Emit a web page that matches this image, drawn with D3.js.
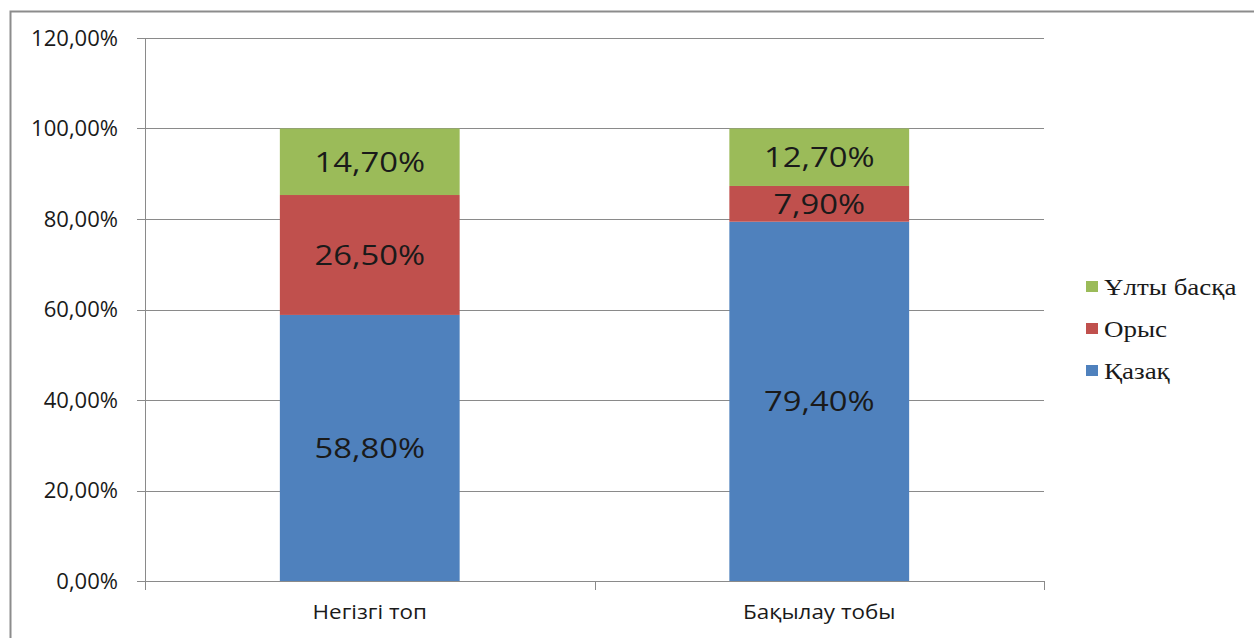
<!DOCTYPE html>
<html>
<head>
<meta charset="utf-8">
<script src="https://cdn.jsdelivr.net/npm/d3@7"></script>
<style>
  html, body { margin: 0; padding: 0; background: #fff; }
  svg { display: block; }
</style>
</head>
<body>
<svg id="chart" width="1254" height="638"></svg>
<script>
// Groups and ethnic composition (%)
const categories = ["Негізгі топ", "Бақылау тобы"];
const seriesNames = ["Қазақ", "Орыс", "Ұлты басқа"];
const kazakh = [58.8, 79.4];
const russian = [26.5, 7.9];
const other = [14.7, 12.7];
const yTicks = [0, 20, 40, 60, 80, 100, 120];
const colors = ["#4F81BD", "#C0504D", "#9BBB59"];

const seriesValues = [kazakh, russian, other];
const pct = v => d3.format(".2f")(v).replace(".", ",") + "%";

const svg = d3.select("#chart");

// Outer chart frame
svg.append("path")
  .attr("d", "M10.5,640 L10.5,11.5 L1256,11.5")
  .attr("fill", "none")
  .attr("stroke", "#8c8c8c")
  .attr("stroke-width", 2);

const plot = { left: 145, right: 1044, top: 38, bottom: 581 };

const x = d3.scaleBand().domain(categories).range([plot.left, plot.right]).padding(0);
const y = d3.scaleLinear().domain([0, 120]).range([plot.bottom, plot.top]);
const barWidth = x.bandwidth() * 0.4;

// Horizontal gridlines
svg.append("g")
  .selectAll("line")
  .data(yTicks)
  .join("line")
  .attr("x1", plot.left - 8)
  .attr("x2", plot.right)
  .attr("y1", d => Math.round(y(d)) + 0.5)
  .attr("y2", d => Math.round(y(d)) + 0.5)
  .attr("stroke", "#8a8a8a")
  .attr("stroke-width", 1);

// Y tick labels (slightly widened glyphs)
svg.append("g")
  .selectAll("text")
  .data(yTicks)
  .join("text")
  .attr("transform", d => `translate(118,${y(d)}) scale(1.05,1)`)
  .attr("dy", "0.36em")
  .attr("text-anchor", "end")
  .attr("font-family", "'Open Sans', sans-serif")
  .attr("font-size", 21)
  .attr("fill", "#1a1a1a")
  .text(pct);

// Stacked data
const stackData = categories.map((c, i) => {
  const row = { cat: c };
  seriesNames.forEach((s, j) => row[s] = seriesValues[j][i]);
  return row;
});
const stacked = d3.stack().keys(seriesNames)(stackData);

const layers = svg.append("g")
  .selectAll("g")
  .data(stacked)
  .join("g")
  .attr("fill", (d, i) => colors[i]);

layers.selectAll("rect")
  .data(d => d)
  .join("rect")
  .attr("x", d => x(d.data.cat) + (x.bandwidth() - barWidth) / 2)
  .attr("width", barWidth)
  .attr("y", d => y(d[1]))
  .attr("height", d => y(d[0]) - y(d[1]));

// Value labels inside segments
layers.selectAll("text")
  .data(d => d.map(v => ({ v, key: d.key })))
  .join("text")
  .attr("transform", d => `translate(${x(d.v.data.cat) + x.bandwidth() / 2},${(y(d.v[0]) + y(d.v[1])) / 2}) scale(1.17,1)`)
  .attr("dy", "0.36em")
  .attr("text-anchor", "middle")
  .attr("font-family", "'Open Sans', sans-serif")
  .attr("font-size", 28)
  .attr("fill", "#1a1a1a")
  .text(d => pct(d.v.data[d.key]));

// X axis baseline, left axis and category separators
const axisY = Math.round(y(0)) + 0.5;
svg.append("line")
  .attr("x1", plot.left).attr("x2", plot.right)
  .attr("y1", axisY).attr("y2", axisY)
  .attr("stroke", "#8a8a8a");
svg.append("line")
  .attr("x1", plot.left + 0.5).attr("x2", plot.left + 0.5)
  .attr("y1", plot.top).attr("y2", plot.bottom + 9)
  .attr("stroke", "#8a8a8a");
const sepX = [plot.left, ...categories.map(c => x(c) + x.bandwidth())];
svg.append("g")
  .selectAll("line")
  .data(sepX)
  .join("line")
  .attr("x1", d => Math.round(d) + 0.5)
  .attr("x2", d => Math.round(d) + 0.5)
  .attr("y1", plot.bottom)
  .attr("y2", plot.bottom + 9)
  .attr("stroke", "#8a8a8a");

// Category labels
svg.append("g")
  .selectAll("text")
  .data(categories)
  .join("text")
  .attr("transform", d => `translate(${x(d) + x.bandwidth() / 2},619) scale(1.15,1)`)
  .attr("text-anchor", "middle")
  .attr("font-family", "'Open Sans', sans-serif")
  .attr("font-size", 19.5)
  .attr("fill", "#1a1a1a")
  .text(d => d);

// Legend (top to bottom: last series first)
const legendItems = seriesNames.map((s, i) => ({ s, c: colors[i] })).reverse();
const legend = svg.append("g")
  .selectAll("g")
  .data(legendItems)
  .join("g")
  .attr("transform", (d, i) => `translate(1086, ${287 + i * 42})`);
legend.append("rect")
  .attr("x", 0).attr("y", -6)
  .attr("width", 12).attr("height", 11)
  .attr("fill", d => d.c);
legend.append("text")
  .attr("transform", "translate(18,0) scale(1.2,1)")
  .attr("dy", "0.35em")
  .attr("font-family", "'Liberation Serif', 'Times New Roman', serif")
  .attr("font-size", 22.5)
  .attr("fill", "#1a1a1a")
  .text(d => d.s);
</script>
</body>
</html>
